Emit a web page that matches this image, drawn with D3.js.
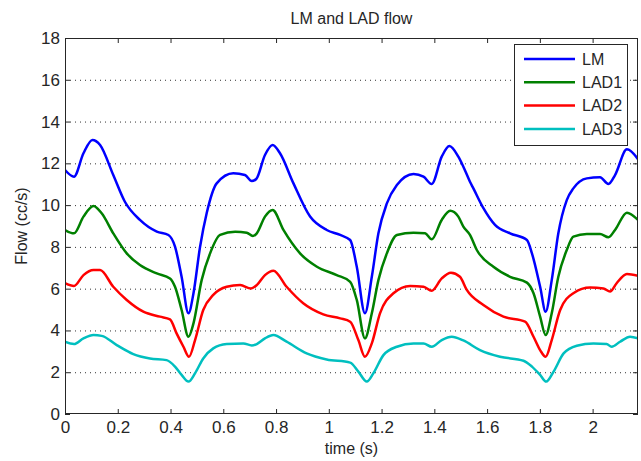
<!DOCTYPE html>
<html>
<head>
<meta charset="utf-8">
<script src="https://cdn.jsdelivr.net/npm/d3@7"></script>
<style>
  body { margin: 0; background: #fff; }
  text { font-family: "Liberation Sans", Arial, sans-serif; fill: #262626; }
</style>
</head>
<body>
<div id="chart"></div>
<script>
// Tick values
const xTicks = [0, 0.2, 0.4, 0.6, 0.8, 1, 1.2, 1.4, 1.6, 1.8, 2];
const yTicks = [0, 2, 4, 6, 8, 10, 12, 14, 16, 18];

// Series names
const seriesNames = ["LM", "LAD1", "LAD2", "LAD3"];

// LM flow (cc/s)
const lmTime = [0, 0.034, 0.07, 0.104, 0.133, 0.183, 0.227, 0.284, 0.348, 0.392, 0.417, 0.442, 0.468, 0.487, 0.512, 0.537, 0.575, 0.638, 0.682, 0.708, 0.725, 0.758, 0.787, 0.815, 0.866, 0.929, 0.992, 1.043, 1.081, 1.106, 1.137, 1.163, 1.188, 1.22, 1.258, 1.321, 1.359, 1.39, 1.428, 1.457, 1.491, 1.51, 1.535, 1.548, 1.586, 1.63, 1.687, 1.751, 1.77, 1.801, 1.822, 1.845, 1.87, 1.902, 1.927, 1.978, 2.028, 2.06, 2.085, 2.13, 2.172];
const lmFlow = [11.68, 11.36, 12.48, 13.12, 12.88, 11.44, 10.16, 9.29, 8.73, 8.57, 8.01, 6.57, 4.82, 5.78, 8.01, 9.61, 11.04, 11.52, 11.44, 11.15, 11.25, 12.4, 12.88, 12.48, 11.04, 9.45, 8.81, 8.57, 8.33, 7.05, 4.82, 6.57, 8.65, 10.08, 10.96, 11.49, 11.36, 11.01, 12.32, 12.83, 12.32, 11.84, 11.12, 10.8, 9.85, 9.05, 8.65, 8.33, 7.69, 6.09, 4.9, 6.41, 8.65, 10.24, 10.8, 11.28, 11.33, 11.01, 11.44, 12.67, 12.2];

// LAD1
const lad1Time = [0, 0.034, 0.07, 0.108, 0.139, 0.183, 0.234, 0.284, 0.348, 0.398, 0.417, 0.442, 0.468, 0.487, 0.518, 0.55, 0.588, 0.645, 0.689, 0.712, 0.727, 0.758, 0.787, 0.828, 0.891, 0.955, 1.03, 1.081, 1.106, 1.137, 1.163, 1.188, 1.22, 1.258, 1.321, 1.365, 1.39, 1.428, 1.46, 1.491, 1.51, 1.535, 1.561, 1.624, 1.687, 1.751, 1.776, 1.801, 1.822, 1.845, 1.87, 1.902, 1.927, 1.978, 2.028, 2.06, 2.085, 2.13, 2.172];
const lad1Flow = [8.81, 8.65, 9.45, 9.96, 9.61, 8.65, 7.69, 7.13, 6.73, 6.49, 6.09, 4.98, 3.7, 4.34, 6.41, 7.69, 8.57, 8.73, 8.68, 8.52, 8.65, 9.45, 9.77, 8.81, 7.69, 7.05, 6.65, 6.33, 5.46, 3.62, 4.82, 6.41, 7.69, 8.57, 8.68, 8.65, 8.36, 9.29, 9.73, 9.45, 8.97, 8.57, 7.85, 7.05, 6.57, 6.29, 5.78, 4.66, 3.78, 4.82, 6.57, 7.85, 8.49, 8.62, 8.62, 8.46, 8.81, 9.64, 9.29];

// LAD2
const lad2Time = [0, 0.034, 0.07, 0.108, 0.133, 0.183, 0.234, 0.297, 0.36, 0.398, 0.423, 0.449, 0.47, 0.493, 0.524, 0.562, 0.613, 0.664, 0.705, 0.727, 0.758, 0.79, 0.84, 0.903, 0.979, 1.043, 1.081, 1.112, 1.137, 1.163, 1.194, 1.245, 1.308, 1.359, 1.39, 1.428, 1.463, 1.497, 1.523, 1.586, 1.662, 1.744, 1.776, 1.801, 1.822, 1.845, 1.877, 1.927, 1.991, 2.041, 2.066, 2.091, 2.13, 2.172];
const lad2Flow = [6.26, 6.13, 6.65, 6.89, 6.89, 6.09, 5.46, 4.9, 4.66, 4.53, 3.86, 3.22, 2.74, 3.54, 4.98, 5.7, 6.09, 6.17, 6.01, 6.17, 6.65, 6.86, 6.09, 5.3, 4.77, 4.58, 4.42, 3.54, 2.74, 3.38, 4.82, 5.78, 6.13, 6.09, 5.9, 6.49, 6.76, 6.57, 5.94, 5.22, 4.66, 4.42, 3.7, 3.06, 2.74, 3.54, 4.98, 5.78, 6.05, 6.01, 5.86, 6.26, 6.7, 6.62];

// LAD3
const lad3Time = [0, 0.034, 0.07, 0.108, 0.139, 0.196, 0.259, 0.322, 0.385, 0.417, 0.442, 0.468, 0.493, 0.524, 0.562, 0.613, 0.676, 0.708, 0.727, 0.758, 0.79, 0.84, 0.916, 0.992, 1.081, 1.112, 1.144, 1.169, 1.207, 1.258, 1.321, 1.359, 1.39, 1.428, 1.466, 1.51, 1.573, 1.649, 1.738, 1.77, 1.801, 1.824, 1.852, 1.89, 1.94, 2.003, 2.053, 2.072, 2.104, 2.142, 2.172];
const lad3Flow = [3.46, 3.35, 3.62, 3.78, 3.74, 3.3, 2.87, 2.66, 2.58, 2.27, 1.87, 1.55, 1.95, 2.66, 3.14, 3.35, 3.38, 3.28, 3.35, 3.62, 3.78, 3.46, 2.9, 2.61, 2.46, 2.03, 1.55, 1.95, 2.82, 3.22, 3.38, 3.38, 3.22, 3.54, 3.7, 3.52, 3.06, 2.74, 2.55, 2.27, 1.87, 1.55, 2.03, 2.9, 3.27, 3.38, 3.35, 3.22, 3.46, 3.7, 3.62];

const colors = ["#0000ff", "#008000", "#ff0000", "#00bfbf"];

// Build series from the arrays above
const series = [
    {name: seriesNames[0], time: lmTime, flow: lmFlow},
    {name: seriesNames[1], time: lad1Time, flow: lad1Flow},
    {name: seriesNames[2], time: lad2Time, flow: lad2Flow},
    {name: seriesNames[3], time: lad3Time, flow: lad3Flow}
].map((s, i) => ({
    name: s.name,
    color: colors[i],
    values: s.time.map((t, j) => ({t: t, v: s.flow[j]}))
}));

// Dimensions
const margin = {top: 38, right: 3, bottom: 47, left: 65},
      width = 641 - margin.left - margin.right,
      height = 461 - margin.top - margin.bottom;

const svg = d3.select("#chart")
    .append("svg")
    .attr("width", 641)
    .attr("height", 461);

const g = svg.append("g")
    .attr("transform", `translate(${margin.left},${margin.top})`);

// Scales
const x = d3.scaleLinear().domain([0, 2.172]).range([0, width]);
const y = d3.scaleLinear().domain([0, 18]).range([height, 0]);

// Dotted horizontal grid
g.selectAll(".grid")
    .data(yTicks.filter(d => d > 0 && d < 18))
    .enter()
    .append("line")
    .attr("class", "grid")
    .attr("x1", 0)
    .attr("x2", width)
    .attr("y1", d => y(d) + 0.5)
    .attr("y2", d => y(d) + 0.5)
    .attr("stroke", "#333")
    .attr("stroke-width", 1)
    .attr("stroke-dasharray", "1,4");

// Axes (MATLAB style: ticks pointing inward on all four sides)
const tickFont = "17px";

const xAxis = g.append("g")
    .attr("transform", `translate(0,${height})`)
    .call(d3.axisBottom(x).tickValues(xTicks).tickSize(-5).tickPadding(7).tickFormat(d => d));
xAxis.selectAll("text").style("font-size", tickFont);

const yAxis = g.append("g")
    .call(d3.axisLeft(y).tickValues(yTicks).tickSize(-5).tickPadding(5).tickFormat(d => d));
yAxis.selectAll("text").style("font-size", tickFont);

g.append("g")
    .call(d3.axisTop(x).tickValues(xTicks).tickSize(-5).tickFormat(""));
g.append("g")
    .attr("transform", `translate(${width},0)`)
    .call(d3.axisRight(y).tickValues(yTicks).tickSize(-5).tickFormat(""));

g.selectAll(".domain").remove();
g.selectAll(".tick line").attr("stroke", "#262626");

// Clip lines to the plot area
g.append("clipPath")
    .attr("id", "clip")
    .append("rect")
    .attr("width", width)
    .attr("height", height);

const line = d3.line()
    .x(d => x(d.t))
    .y(d => y(d.v))
    .curve(d3.curveMonotoneX);

g.append("g")
    .attr("clip-path", "url(#clip)")
    .selectAll("path")
    .data(series)
    .enter()
    .append("path")
    .attr("d", d => line(d.values))
    .attr("fill", "none")
    .attr("stroke", d => d.color)
    .attr("stroke-width", 2.5)
    .attr("stroke-linejoin", "round");

// Axes box
g.append("rect")
    .attr("x", 0.5)
    .attr("y", 0.5)
    .attr("width", width - 1)
    .attr("height", height - 1)
    .attr("fill", "none")
    .attr("stroke", "#262626")
    .attr("stroke-width", 1);

// Title and axis labels
svg.append("text")
    .attr("x", margin.left + width / 2)
    .attr("y", 24)
    .attr("text-anchor", "middle")
    .style("font-size", "16px")
    .text("LM and LAD flow");

svg.append("text")
    .attr("x", margin.left + width / 2)
    .attr("y", 454)
    .attr("text-anchor", "middle")
    .style("font-size", "16px")
    .text("time (s)");

svg.append("text")
    .attr("transform", `translate(27,${margin.top + height / 2}) rotate(-90)`)
    .attr("text-anchor", "middle")
    .style("font-size", "16px")
    .text("Flow (cc/s)");

// Legend
const legend = svg.append("g").attr("transform", "translate(514,44)");

legend.append("rect")
    .attr("x", 0.5)
    .attr("y", 0.5)
    .attr("width", 113)
    .attr("height", 101)
    .attr("fill", "#fff")
    .attr("stroke", "#262626");

const items = legend.selectAll(".item")
    .data(series)
    .enter()
    .append("g")
    .attr("class", "item")
    .attr("transform", (d, i) => `translate(0,${15 + i * 23.3})`);

items.append("line")
    .attr("x1", 10)
    .attr("x2", 61)
    .attr("stroke", d => d.color)
    .attr("stroke-width", 2.5);

items.append("text")
    .attr("x", 68)
    .attr("dy", "0.35em")
    .style("font-size", "16px")
    .text(d => d.name);
</script>
</body>
</html>
